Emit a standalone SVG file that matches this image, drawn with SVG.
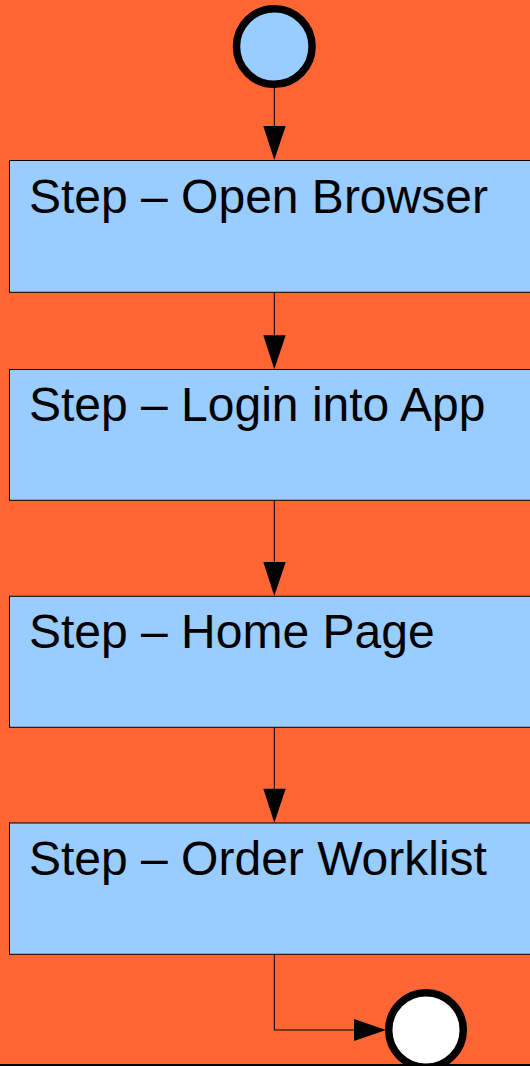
<svg xmlns="http://www.w3.org/2000/svg" width="530" height="1066" viewBox="0 0 530 1066">
<style>
.box{fill:#99CCFF;stroke:#000;stroke-width:1}
.lbl{font-family:"Liberation Sans",Arial,sans-serif;font-size:48px;fill:#000}
.conn{fill:none;stroke:#000;stroke-width:1}
.head{fill:#000;stroke:none}
</style>
<rect x="0" y="0" width="530" height="1066" fill="#FF6633"/>
<g id="connectors">
<line class="conn" x1="274.3" y1="88" x2="274.3" y2="128"/>
<polygon class="head" points="263.3,126 285.7,126 274.3,160"/>
<line class="conn" x1="274.3" y1="292.5" x2="274.3" y2="337"/>
<polygon class="head" points="263.3,335.3 285.7,335.3 274.3,369.3"/>
<line class="conn" x1="274.3" y1="500.5" x2="274.3" y2="564"/>
<polygon class="head" points="263.3,562 285.7,562 274.3,596"/>
<line class="conn" x1="274.3" y1="727.5" x2="274.3" y2="790"/>
<polygon class="head" points="263.3,788.7 285.7,788.7 274.3,822.7"/>
<polyline class="conn" points="274.3,954.5 274.3,1030 356,1030"/>
<polygon class="head" points="354,1019 354,1041 386,1030"/>
</g>
<g id="start">
<circle cx="274.3" cy="46.5" r="37.8" fill="#99CCFF" stroke="#000" stroke-width="7.5"/>
</g>
<g id="step1">
<rect class="box" x="9.5" y="160.5" width="530" height="131.8"/>
<text class="lbl" x="29" y="213">Step – Open Browser</text>
</g>
<g id="step2">
<rect class="box" x="9.5" y="369.5" width="530" height="130.8"/>
<text class="lbl" x="29" y="421">Step – Login into App</text>
</g>
<g id="step3">
<rect class="box" x="9.5" y="596.3" width="530" height="131"/>
<text class="lbl" x="29" y="648">Step – Home Page</text>
</g>
<g id="step4">
<rect class="box" x="9.5" y="823" width="530" height="131.3"/>
<text class="lbl" x="29" y="874.5">Step – Order Worklist</text>
</g>
<g id="end">
<circle cx="426" cy="1030" r="37.3" fill="#FFFFFF" stroke="#000" stroke-width="7.5"/>
</g>
<rect x="0" y="1064" width="530" height="2" fill="#000"/>
</svg>
